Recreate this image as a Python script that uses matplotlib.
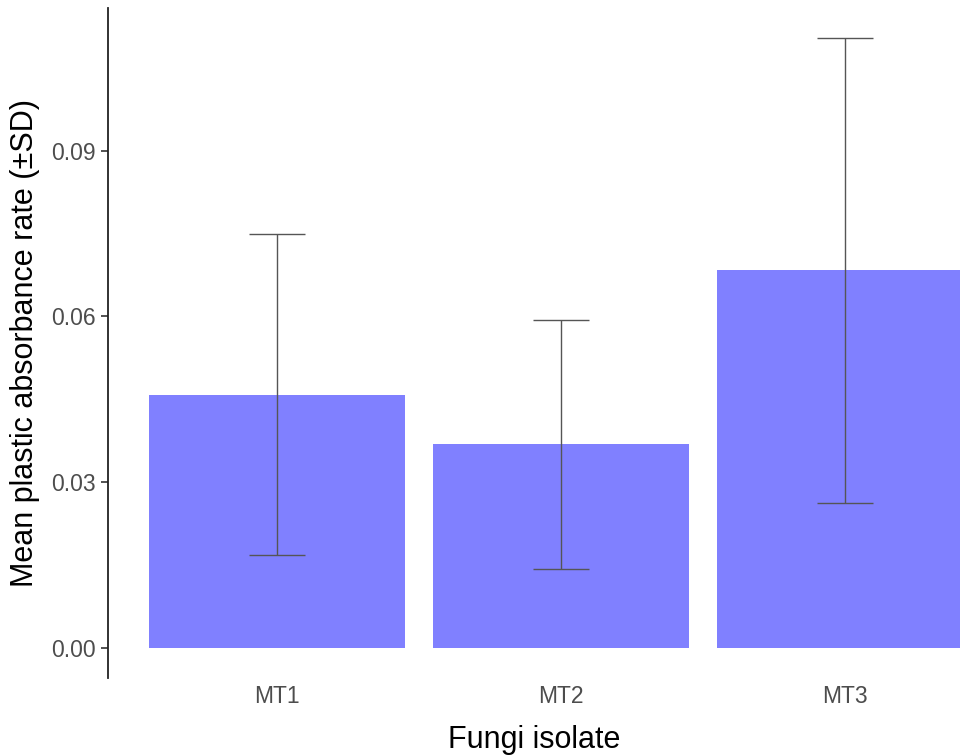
import matplotlib
matplotlib.use("Agg")
from matplotlib import pyplot as plt

# values
isolates = ["MT1", "MT2", "MT3"]
mean_rate = [0.0458, 0.0368, 0.0683]
sd_rate = [0.0290, 0.0225, 0.0421]
y_ticks = [0.00, 0.03, 0.06, 0.09]

plt.rcParams['font.family'] = ['Liberation Sans', 'DejaVu Sans']

fig = plt.figure(figsize=(9.6, 7.56), dpi=100)
ax = fig.add_axes([108 / 960, 1 - 678 / 756, 1 - 108 / 960, (678 - 8) / 756])

pos = list(range(1, len(isolates) + 1))
ax.bar(pos, mean_rate, width=0.9, color='#8080FF', zorder=1)
ax.errorbar(pos, mean_rate, yerr=sd_rate, fmt='none', ecolor='#555555',
            elinewidth=1.0, capsize=20, capthick=1.0, zorder=2)

ax.set_xlim(0.405, 3.405)
ax.set_ylim(-0.0055, 0.1158)
ax.set_xticks(pos)
ax.set_xticklabels(isolates)
ax.set_yticks(y_ticks)
ax.set_yticklabels([f"{v:.2f}" for v in y_ticks])

for side in ['top', 'right', 'bottom']:
    ax.spines[side].set_visible(False)
ax.spines['left'].set_color('#222222')
ax.spines['left'].set_linewidth(1.3)

ax.tick_params(axis='x', length=0, pad=5, labelsize=16.5, labelcolor='#4D4D4D')
ax.tick_params(axis='y', length=5, width=1.1, color='#222222', pad=4,
               labelsize=16.5, labelcolor='#4D4D4D')

ax.set_xlabel("Fungi isolate", fontsize=22, labelpad=12)
ax.set_ylabel("Mean plastic absorbance rate (±SD)", fontsize=22, labelpad=8)

plt.savefig("out.png", dpi=100)
